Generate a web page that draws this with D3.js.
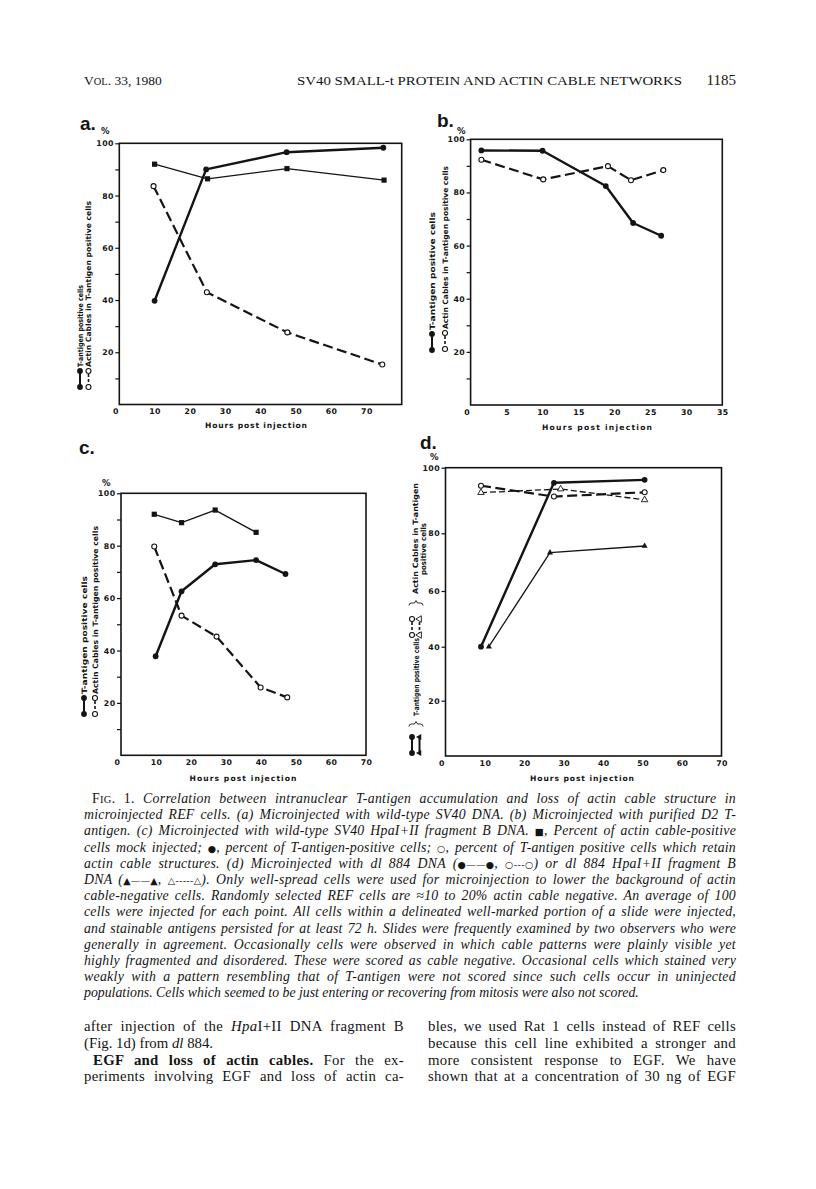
<!DOCTYPE html>
<html><head><meta charset="utf-8">
<script src="https://cdn.jsdelivr.net/npm/d3@7"></script>
<style>
body{margin:0;background:#fff;}
svg{display:block;}
</style></head><body>
<svg id="page" width="816" height="1189"></svg>
<script>
// ================= DATA =================
// Panel a: wild-type SV40 DNA
const aMockHours = [10, 25, 47.5, 75];
const aMock = [92, 86.4, 90.3, 85.9];
const aTagHours = [10, 24.6, 47.4, 74.8];
const aTag = [39.7, 90.0, 96.6, 98.3];
const aCableHours = [9.7, 24.8, 47.6, 74.5];
const aCable = [83.6, 43.0, 27.6, 15.3];
// Panel b: purified D2 T-antigen
const bTagHours = [1.5, 10, 18.8, 22.6, 26.5];
const bTag = [95.8, 95.7, 82.4, 68.5, 63.7];
const bCableHours = [1.5, 10.1, 19.1, 22.3, 26.8];
const bCable = [92.3, 84.9, 89.9, 84.6, 88.4];
// Panel c: HpaI+II fragment B DNA
const cMockHours = [9.5, 17.3, 26.9, 38.6];
const cMock = [92.0, 88.8, 93.6, 85.1];
const cTagHours = [9.9, 17.3, 26.9, 38.6, 47.0];
const cTag = [37.8, 62.6, 72.9, 74.5, 69.2];
const cCableHours = [9.5, 17.3, 27.3, 39.9, 47.5];
const cCable = [79.7, 53.3, 45.3, 25.9, 22.1];
// Panel d: dl 884 DNA and dl 884 HpaI+II fragment B
const dDnaHours = [9, 27.5, 50.5];
const dDnaTag = [40, 95.4, 96.3];
const dDnaCable = [94.5, 91.2, 92.5];
const dFragTagHours = [11, 26.5, 50.5];
const dFragTag = [40, 73.3, 75.6];
const dFragCableHours = [9, 29.2, 50.5];
const dFragCable = [92.4, 93.5, 90.2];
// Tick labels
const yTickValues = [10, 20, 30, 40, 50, 60, 70, 80, 90, 100];
const yTickValuesD = [20, 40, 60, 80, 100];
const xTicksA = [0, 10, 20, 30, 40, 50, 60, 70];
const xTicksB = [0, 5, 10, 15, 20, 25, 30, 35];
const xTicksCD = [0, 10, 20, 30, 40, 50, 60, 70];
const xAxisTitle = "Hours post injection";
const legendTag = "T-antigen positive cells";
const legendCable = "Actin Cables in T-antigen positive cells";

// ================= HELPERS =================
const svg = d3.select("#page");
const INK = "#141414";
const SANS = "'DejaVu Sans', sans-serif";
const SERIF = "'Liberation Serif', 'DejaVu Serif', serif";

const zip = (xs, ys) => xs.map((v, i) => [v, ys[i]]);

const STYLES = {
  thick:  {w: 2.4, dash: null},
  thin:   {w: 1.3, dash: null},
  dashed: {w: 2.2, dash: "10,4.5"},
  thinDashed: {w: 1.3, dash: "6,3"}
};

function drawMarker(g, kind, cx, cy) {
  if (kind === "dot") {
    g.append("circle").attr("cx", cx).attr("cy", cy).attr("r", 2.9).attr("fill", INK);
  } else if (kind === "open") {
    g.append("circle").attr("cx", cx).attr("cy", cy).attr("r", 2.5).attr("fill", "#fff").attr("stroke", INK).attr("stroke-width", 1.1);
  } else if (kind === "square") {
    g.append("rect").attr("x", cx - 2.6).attr("y", cy - 2.6).attr("width", 5.2).attr("height", 5.2).attr("fill", INK);
  } else if (kind === "tri") {
    g.append("path").attr("transform", `translate(${cx},${cy})`).attr("d", d3.symbol(d3.symbolTriangle, 16)()).attr("fill", INK);
  } else if (kind === "openTri") {
    g.append("path").attr("transform", `translate(${cx},${cy})`).attr("d", d3.symbol(d3.symbolTriangle, 18)()).attr("fill", "#fff").attr("stroke", INK).attr("stroke-width", 0.9);
  }
}

function drawPanel(p) {
  const g = svg.append("g");
  const x = d3.scaleLinear().domain([0, p.xMax]).range([p.left, p.right]);
  const y = d3.scaleLinear().domain(p.yDomain).range(p.yRange);
  const top = y(100), bottom = y(0);

  const yAxis = d3.axisLeft(y).tickValues(p.yTicks).tickSize(4).tickPadding(1.5)
    .tickFormat(d => d % 20 === 0 ? String(d) : "");
  const ya = g.append("g").attr("transform", `translate(${p.left},0)`).call(yAxis);
  ya.select(".domain").remove();
  ya.selectAll("line").attr("stroke", INK).attr("stroke-width", 1.2);
  ya.selectAll("text").attr("font-family", SANS).attr("font-weight", "bold")
    .attr("font-size", 7.8).attr("fill", INK).attr("letter-spacing", 0.4);

  const xAxis = d3.axisBottom(x).tickValues(p.xTicks).tickSize(0).tickPadding(4).tickFormat(d => String(d));
  const xa = g.append("g").attr("transform", `translate(0,${bottom})`).call(xAxis);
  xa.select(".domain").remove();
  xa.selectAll("text").attr("font-family", SANS).attr("font-weight", "bold")
    .attr("font-size", 7.8).attr("fill", INK).attr("letter-spacing", 0.4)
    .attr("dx", d => d === 0 ? -4 : 0);

  g.append("rect").attr("x", p.left).attr("y", top).attr("width", p.right - p.left)
    .attr("height", bottom - top).attr("fill", "none").attr("stroke", INK).attr("stroke-width", 1.6);

  g.append("text").attr("x", p.xTitle[0]).attr("y", p.xTitle[1]).attr("text-anchor", "middle")
    .attr("font-family", SANS).attr("font-weight", "bold").attr("font-size", 7.6).attr("fill", INK)
    .attr("textLength", p.xTitleLen).attr("lengthAdjust", "spacing").text(xAxisTitle);

  g.append("text").attr("x", p.letter[0]).attr("y", p.letter[1]).attr("font-family", "'Liberation Sans', Arial, sans-serif")
    .attr("font-weight", "bold").attr("font-size", 19).attr("fill", INK).text(p.name);
  g.append("text").attr("x", p.pct[0]).attr("y", p.pct[1]).attr("font-family", SANS)
    .attr("font-weight", "bold").attr("font-size", 8.5).attr("fill", INK).text("%");

  const line = d3.line().x(d => x(d[0])).y(d => y(d[1]));
  p.series.forEach(s => {
    const st = STYLES[s.style];
    g.append("path").attr("d", line(zip(s.xs, s.ys))).attr("fill", "none").attr("stroke", INK)
      .attr("stroke-width", st.w).attr("stroke-dasharray", st.dash).attr("stroke-linejoin", "round");
  });
  p.series.forEach(s => {
    zip(s.xs, s.ys).forEach(d => drawMarker(g, s.marker, x(d[0]), y(d[1])));
  });
  return g;
}

// legend item: rotated, reads bottom-to-top
function legendItem(cx, yStart, marker, dashed, text, textLen, fs) {
  const g = svg.append("g").attr("transform", `translate(${cx},${yStart}) rotate(-90)`);
  g.append("line").attr("x1", 0).attr("x2", 16).attr("y1", 0).attr("y2", 0).attr("stroke", INK)
    .attr("stroke-width", dashed ? 1.6 : 2).attr("stroke-dasharray", dashed ? "3,2" : null);
  drawMarker(g, marker, 0, 0);
  drawMarker(g, marker, 16, 0);
  if (text) {
    g.append("text").attr("x", 20).attr("y", 2.8).attr("font-family", SANS).attr("font-weight", "bold")
      .attr("font-size", fs || 7.4).attr("fill", INK).attr("textLength", textLen).attr("lengthAdjust", "spacingAndGlyphs").text(text);
  }
}
function rotText(cx, yStart, text, len, fs) {
  svg.append("text").attr("transform", `translate(${cx},${yStart}) rotate(-90)`).attr("y", 2.8)
    .attr("font-family", SANS).attr("font-weight", "bold").attr("font-size", fs || 7.4).attr("fill", INK)
    .attr("textLength", len).attr("lengthAdjust", "spacingAndGlyphs").text(text);
}
function brace(x1, x2, yb) {
  const m = (x1 + x2) / 2;
  svg.append("path")
    .attr("d", `M${x1},${yb + 2.5} Q${x1},${yb} ${x1 + 2.5},${yb} L${m - 1.5},${yb} L${m},${yb - 2.5} L${m + 1.5},${yb} L${x2 - 2.5},${yb} Q${x2},${yb} ${x2},${yb + 2.5}`)
    .attr("fill", "none").attr("stroke", INK).attr("stroke-width", 0.9);
}

// ================= PANELS =================
drawPanel({
  name: "a.", letter: [80, 130], pct: [101, 134],
  xMax: 80, left: 119.3, right: 401.7, yDomain: [0, 100], yRange: [404.5, 143.3],
  yTicks: yTickValues, xTicks: xTicksA, xTitle: [256, 428], xTitleLen: 102,
  series: [
    {xs: aMockHours, ys: aMock, style: "thin", marker: "square"},
    {xs: aCableHours, ys: aCable, style: "dashed", marker: "open"},
    {xs: aTagHours, ys: aTag, style: "thick", marker: "dot"}
  ]
});
legendItem(80, 387, "dot", false, legendTag, 82);
legendItem(88.5, 387, "open", true, legendCable, 166);

drawPanel({
  name: "b.", letter: [437, 127], pct: [457, 134],
  xMax: 35, left: 470.6, right: 722.3, yDomain: [0, 100], yRange: [405, 139.3],
  yTicks: yTickValues, xTicks: xTicksB, xTitle: [597, 430], xTitleLen: 110,
  series: [
    {xs: bCableHours, ys: bCable, style: "dashed", marker: "open"},
    {xs: bTagHours, ys: bTag, style: "thick", marker: "dot"}
  ]
});
legendItem(432, 350, "dot", false, legendTag, 118);
legendItem(445, 349, "open", true, legendCable, 163);

drawPanel({
  name: "c.", letter: [79, 454], pct: [102, 486],
  xMax: 70, left: 121, right: 366, yDomain: [0, 100], yRange: [755.3, 493.3],
  yTicks: yTickValues, xTicks: xTicksCD, xTitle: [243, 781], xTitleLen: 107,
  series: [
    {xs: cMockHours, ys: cMock, style: "thin", marker: "square"},
    {xs: cCableHours, ys: cCable, style: "dashed", marker: "open"},
    {xs: cTagHours, ys: cTag, style: "thick", marker: "dot"}
  ]
});
legendItem(84, 714, "dot", false, legendTag, 118);
legendItem(95, 714, "open", true, legendCable, 168);

// Panel d uses the printed (slightly uneven) vertical scale of the original figure
drawPanel({
  name: "d.", letter: [420, 449], pct: [430, 460],
  xMax: 70, left: 445.5, right: 721.5,
  yDomain: [0, 20, 40, 60, 80, 100], yRange: [756, 700.7, 646.7, 591, 533.3, 467.7],
  yTicks: yTickValuesD, xTicks: xTicksCD, xTitle: [582, 781], xTitleLen: 104,
  series: [
    {xs: dFragTagHours, ys: dFragTag, style: "thin", marker: "tri"},
    {xs: dFragCableHours, ys: dFragCable, style: "thinDashed", marker: "openTri"},
    {xs: dDnaHours, ys: dDnaCable, style: "dashed", marker: "open"},
    {xs: dDnaHours, ys: dDnaTag, style: "thick", marker: "dot"}
  ]
});
legendItem(412, 753, "dot", false, null);
legendItem(419.5, 753, "tri", false, null);
brace(409, 423, 724);
rotText(416, 716, legendTag, 78);
legendItem(412, 635, "open", true, null);
legendItem(419.5, 635, "openTri", true, null);
brace(409, 423, 603);
rotText(415, 594, "Actin Cables in T-antigen", 111);
rotText(423.5, 575, "positive cells", 52);

// ================= TEXT HELPERS =================
// justify a line: part of the slack goes to letter spacing, the rest to word spacing
function justify(t, target) {
  const node = t.node();
  const txt = node.textContent;
  const w = node.getComputedTextLength();
  const spaces = (txt.match(/ /g) || []).length;
  const extra = target - w;
  if (extra > 0) {
    const ls = Math.min(0.3, extra * 0.45 / txt.length);
    t.style("letter-spacing", ls + "px");
  }
  const w2 = node.getComputedTextLength();
  if (spaces > 0) t.style("word-spacing", ((target - w2) / spaces) + "px");
}

// ================= RUNNING HEAD =================
const head = svg.append("g").attr("font-family", SERIF).attr("fill", INK);
const vol = head.append("text").attr("x", 84).attr("y", 85).attr("font-size", 13.5);
vol.append("tspan").text("V");
vol.append("tspan").attr("font-size", 10.5).text("OL");
vol.append("tspan").text(". 33, 1980");
head.append("text").attr("x", 297).attr("y", 85).attr("font-size", 13).attr("textLength", 385)
  .attr("lengthAdjust", "spacingAndGlyphs").text("SV40 SMALL-t PROTEIN AND ACTIN CABLE NETWORKS");
head.append("text").attr("x", 736).attr("y", 85).attr("text-anchor", "end").attr("font-size", 15).text("1185");

// ================= CAPTION =================
const captionLines = [
  [["F", "r"], ["IG", "rs"], [". 1. ", "r"], ["Correlation between intranuclear T-antigen accumulation and loss of actin cable structure in", "i"]],
  [["microinjected REF cells. (a) Microinjected with wild-type SV40 DNA. (b) Microinjected with purified D2 T-", "i"]],
  [["antigen. (c) Microinjected with wild-type SV40 HpaI+II fragment B DNA. ", "i"], ["■", "r"], [", Percent of actin cable-positive", "i"]],
  [["cells mock injected; ", "i"], ["●", "r"], [", percent of T-antigen-positive cells; ", "i"], ["○", "r"], [", percent of T-antigen positive cells which retain", "i"]],
  [["actin cable structures. (d) Microinjected with dl 884 DNA (", "i"], ["●——●", "r"], [", ", "i"], ["○---○", "r"], [") or dl 884 HpaI+II fragment B", "i"]],
  [["DNA (", "i"], ["▲——▲", "r"], [", ", "i"], ["△-----△", "r"], ["). Only well-spread cells were used for microinjection to lower the background of actin", "i"]],
  [["cable-negative cells. Randomly selected REF cells are ≈10 to 20% actin cable negative. An average of 100", "i"]],
  [["cells were injected for each point. All cells within a delineated well-marked portion of a slide were injected,", "i"]],
  [["and stainable antigens persisted for at least 72 h. Slides were frequently examined by two observers who were", "i"]],
  [["generally in agreement. Occasionally cells were observed in which cable patterns were plainly visible yet", "i"]],
  [["highly fragmented and disordered. These were scored as cable negative. Occasional cells which stained very", "i"]],
  [["weakly with a pattern resembling that of T-antigen were not scored since such cells occur in uninjected", "i"]],
  [["populations. Cells which seemed to be just entering or recovering from mitosis were also not scored.", "i"]]
];
const capG = svg.append("g").attr("font-family", SERIF).attr("fill", INK).attr("font-size", 13.8);
captionLines.forEach((segs, i) => {
  const x0 = i === 0 ? 92 : 84;
  const t = capG.append("text").attr("x", x0).attr("y", 803 + i * 16.2);
  segs.forEach(([txt, st]) => {
    const ts = t.append("tspan").text(txt);
    if (st === "i") ts.attr("font-style", "italic");
    if (st === "rs") ts.attr("font-size", 10.5);
    if (st === "r" && /[■●○▲△]/.test(txt)) ts.attr("font-family", "'DejaVu Sans', sans-serif").attr("font-size", 9.5);
  });
  if (i < captionLines.length - 1) justify(t, 736 - x0);
});

// ================= BODY TEXT =================
const bodyLeft = [
  [[["after injection of the ", "r"], ["Hpa", "i"], ["I+II DNA fragment B", "r"]], 84, true],
  [[["(Fig. 1d) from ", "r"], ["dl", "i"], [" 884.", "r"]], 84, false],
  [[["EGF and loss of actin cables.", "b"], [" For the ex-", "r"]], 93, true],
  [[["periments involving EGF and loss of actin ca-", "r"]], 84, true]
];
const bodyRight = [
  "bles, we used Rat 1 cells instead of REF cells",
  "because this cell line exhibited a stronger and",
  "more consistent response to EGF. We have",
  "shown that at a concentration of 30 ng of EGF"
];
const bodyG = svg.append("g").attr("font-family", SERIF).attr("fill", INK).attr("font-size", 14.8);
bodyLeft.forEach(([segs, x0, just], i) => {
  const t = bodyG.append("text").attr("x", x0).attr("y", 1031 + i * 16.8);
  segs.forEach(([txt, st]) => {
    const ts = t.append("tspan").text(txt);
    if (st === "i") ts.attr("font-style", "italic");
    if (st === "b") ts.attr("font-weight", "bold");
  });
  if (just) justify(t, 404 - x0);
});
bodyRight.forEach((txt, i) => {
  const t = bodyG.append("text").attr("x", 428).attr("y", 1031 + i * 16.8).text(txt);
  justify(t, 736 - 428);
});
</script>
</body></html>
